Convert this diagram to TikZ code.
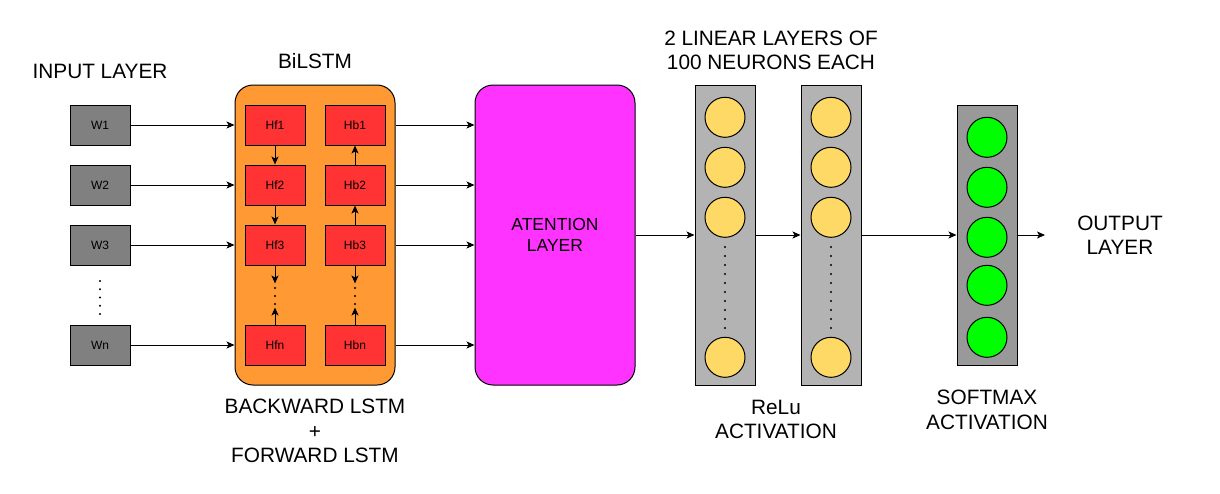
\documentclass[tikz,border=0pt]{standalone}
\usepackage{fontspec}
\setmainfont{Liberation Sans}
\usetikzlibrary{arrows.meta}
\definecolor{wgray}{HTML}{808080}
\definecolor{lgray}{HTML}{B3B3B3}
\definecolor{sgray}{HTML}{999999}
\definecolor{orangebg}{HTML}{FF9933}
\definecolor{hred}{HTML}{FF3333}
\definecolor{attmag}{HTML}{FF33FF}
\definecolor{neuyel}{HTML}{FFD966}
\definecolor{neugrn}{HTML}{00FF00}
\begin{document}
\begin{tikzpicture}[x=1pt,y=-1pt,line width=1pt,
  arr/.style={-{Stealth[length=8pt,width=7pt,inset=2pt]},line width=1pt},
  lbl/.style={inner sep=0pt,align=center,font=\fontsize{20.8}{24.5}\selectfont},
  wbox/.style={draw=black,fill=wgray,minimum width=60pt,minimum height=40pt,inner sep=0pt,font=\fontsize{12}{14}\selectfont},
  hbox/.style={draw=black,fill=hred,minimum width=60pt,minimum height=40pt,inner sep=0pt,font=\fontsize{12}{14}\selectfont},
  bigbox/.style={draw=black,rounded corners=18pt,minimum width=160pt,minimum height=300pt,inner sep=0pt},
  layerbox/.style={draw=black,minimum width=60pt,inner sep=0pt},
  neu/.style={circle,draw=black,minimum size=40pt,inner sep=0pt},
  dotbox/.style={minimum width=2pt,minimum height=23pt,inner sep=0pt}]
\useasboundingbox (0,0) rectangle (1220,493);

% big containers
\node[bigbox,fill=orangebg] (bil) at (315,235) {};
\node[bigbox,fill=attmag,align=center,font=\fontsize{17.5}{21.6}\selectfont] (att) at (555,235) {ATENTION\\LAYER};
\node[layerbox,fill=lgray,minimum height=300pt] (l1) at (725,235) {};
\node[layerbox,fill=lgray,minimum height=300pt] (l2) at (831,235) {};
\node[layerbox,fill=sgray,minimum height=260pt] (sm) at (987,235) {};

% input words
\node[wbox] (w1) at (100,125) {W1};
\node[wbox] (w2) at (100,185) {W2};
\node[wbox] (w3) at (100,245) {W3};
\node[wbox] (wn) at (100,345) {Wn};
\foreach \y in {281,289.3,297.5,305.7,314} \fill (100,\y) circle (1.1pt);

% BiLSTM cells
\node[hbox] (hf1) at (275,125) {Hf1};
\node[hbox] (hf2) at (275,185) {Hf2};
\node[hbox] (hf3) at (275,245) {Hf3};
\node[hbox] (hfn) at (275,345) {Hfn};
\node[hbox] (hb1) at (355,125) {Hb1};
\node[hbox] (hb2) at (355,185) {Hb2};
\node[hbox] (hb3) at (355,245) {Hb3};
\node[hbox] (hbn) at (355,345) {Hbn};
\node[dotbox] (fd) at (275,295.5) {};
\node[dotbox] (bd) at (355,295.5) {};
\foreach \y in {288,296,304} {\fill (275,\y) circle (1.1pt); \fill (355,\y) circle (1.1pt);}

% dense neurons
\foreach \x/\n in {725/a,831/b} {
  \node[neu,fill=neuyel] (\n1) at (\x,117.3) {};
  \node[neu,fill=neuyel] (\n2) at (\x,167.3) {};
  \node[neu,fill=neuyel] (\n3) at (\x,217.3) {};
  \node[neu,fill=neuyel] (\n4) at (\x,357.3) {};
  \foreach \y in {247,256,265,274,283,292,301,310,319,328} \fill (\x,\y) circle (1.1pt);
}
% softmax neurons
\node[neu,fill=neugrn] (s1) at (987,137.3) {};
\node[neu,fill=neugrn] (s2) at (987,187.3) {};
\node[neu,fill=neugrn] (s3) at (987,237.3) {};
\node[neu,fill=neugrn] (s4) at (987,285.3) {};
\node[neu,fill=neugrn] (s5) at (987,337.3) {};

% connectors: inputs to BiLSTM
\foreach \w in {w1,w2,w3,wn} \draw[arr] (\w.east) -- (\w.east -| bil.west);
% BiLSTM to attention
\foreach \h in {hb1,hb2,hb3,hbn} \draw[arr] (bil.east |- \h) -- (att.west |- \h);
% forward chain
\draw[arr] (hf1) -- (hf2);
\draw[arr] (hf2) -- (hf3);
\draw[arr] (hf3) -- (fd.north);
\draw[arr] (hfn) -- (fd.south);
% backward chain
\draw[arr] (hb2) -- (hb1);
\draw[arr] (hb3) -- (hb2);
\draw[arr] (hb3) -- (bd.north);
\draw[arr] (hbn) -- (bd.south);
% dense part
\draw[arr] (att.east) -- (l1.west);
\draw[arr] (l1.east) -- (l2.west);
\draw[arr] (l2.east) -- (sm.west);
\coordinate (out) at (1045,235);
\draw[arr] (sm.east) -- (out);

% labels
\node[lbl] (tin) at (100,71) {INPUT LAYER};
\node[lbl] (tbi) at (315,61) {BiLSTM};
\node[lbl] (tbf) at (315,431.2) {BACKWARD LSTM\\+\\FORWARD LSTM};
\node[lbl] (tlin) at (771,50.3) {2 LINEAR LAYERS OF\\100 NEURONS EACH};
\node[lbl] (trelu) at (776,419.5) {ReLu\\ACTIVATION};
\node[lbl] (tsm) at (987,410) {SOFTMAX\\ACTIVATION};
\node[lbl] (tout) at (1120,235) {OUTPUT\\LAYER};
\end{tikzpicture}
\end{document}
